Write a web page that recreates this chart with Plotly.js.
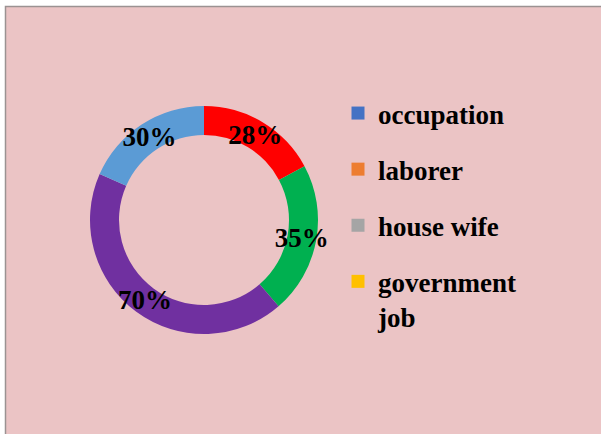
<!DOCTYPE html>
<html>
<head>
<meta charset="utf-8">
<script src="https://cdn.plot.ly/plotly-3.0.1.min.js"></script>
<style>html,body{margin:0;padding:0;background:#fff;}#chart{width:601px;height:434px;}</style>
</head>
<body>
<div id="chart"></div>
<script>
// ---- data ----
const sliceLabels = ['A', 'B', 'C', 'D'];
const sliceValues = [28, 35, 70, 30];
const sliceColors = ['#FF0000', '#00B050', '#7030A0', '#5B9BD5'];
const legendLabels = ['occupation', 'laborer', 'house wife', 'government<br>job'];
const legendColors = ['#4472C4', '#ED7D31', '#A5A5A5', '#FFC000'];

// ---- layout geometry (px) ----
const W = 601, H = 434;
const cx = 204, cy = 220, rOut = 114, rIn = 85;
const rText = 140, rTextIn = 59;
const serif = 'Liberation Serif, Times New Roman, serif';

function dom(r) {
  return {
    x: [(cx - r) / W, (cx + r) / W],
    y: [(H - cy - r) / H, (H - cy + r) / H]
  };
}

const traces = [];
traces.push({
  type: 'pie',
  labels: sliceLabels,
  values: sliceValues,
  sort: false,
  direction: 'clockwise',
  rotation: 0,
  hole: rIn / rOut,
  domain: dom(rOut),
  marker: {colors: sliceColors, line: {width: 0}},
  textinfo: 'none',
  hoverinfo: 'skip',
  showlegend: false
});
traces.push({
  type: 'pie',
  labels: sliceLabels,
  values: sliceValues,
  sort: false,
  direction: 'clockwise',
  rotation: 0,
  hole: rTextIn / rText,
  domain: dom(rText),
  marker: {colors: sliceLabels.map(() => 'rgba(0,0,0,0)'), line: {width: 0}},
  text: sliceValues.map(v => v + '%'),
  textinfo: 'text',
  textposition: 'inside',
  insidetextorientation: 'horizontal',
  insidetextfont: {family: serif, size: 27, color: '#000', weight: 'bold'},
  hoverinfo: 'skip',
  showlegend: false
});
legendLabels.forEach((name, i) => {
  traces.push({
    type: 'scatter',
    mode: 'markers',
    x: [null], y: [null],
    name: name,
    legendgroup: 'g' + i,
    marker: {symbol: 'square', size: 13, color: legendColors[i]},
    hoverinfo: 'skip'
  });
});

const layout = {
  width: W, height: H,
  margin: {l: 0, r: 0, t: 0, b: 0},
  paper_bgcolor: '#FFFFFF',
  plot_bgcolor: 'rgba(0,0,0,0)',
  xaxis: {visible: false},
  yaxis: {visible: false},
  showlegend: true,
  legend: {
    x: 338 / W, xanchor: 'left',
    y: (H - 89) / H, yanchor: 'top',
    bgcolor: 'rgba(0,0,0,0)',
    font: {family: serif, size: 27, color: '#000', weight: 'bold'},
    tracegroupgap: 18,
    valign: 'top',
    traceorder: 'grouped'
  },
  shapes: [{
    type: 'rect', xref: 'paper', yref: 'paper', layer: 'below',
    x0: 5.5 / W, x1: (W + 10) / W, y0: -10 / H, y1: (H - 6.5) / H,
    fillcolor: '#EBC4C5',
    line: {color: '#9B9292', width: 1.5}
  }]
};

Plotly.newPlot('chart', traces, layout, {staticPlot: true, displayModeBar: false});
</script>
</body>
</html>
